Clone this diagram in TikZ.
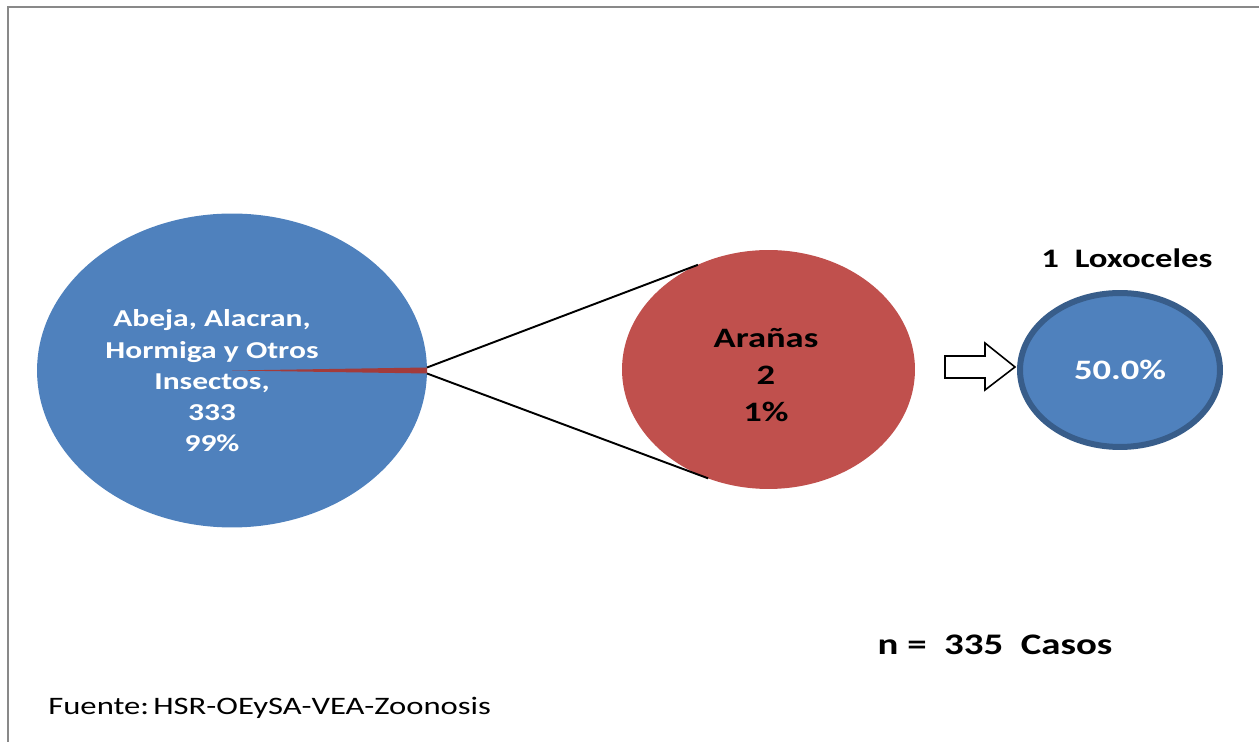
\documentclass[tikz,border=0pt]{standalone}
\usepackage{fontspec}
\setmainfont{Carlito}[FakeStretch=1.3]
\usepackage{xcolor}
\usepackage{tikz}
\usetikzlibrary{shapes.geometric}
\definecolor{PieBlue}{HTML}{4F81BD}
\definecolor{PieRed}{HTML}{C0504D}
\definecolor{SliceRed}{HTML}{A33B3B}
\definecolor{RimBlue}{HTML}{385D8A}
\definecolor{FrameGray}{HTML}{898989}
\tikzset{
  pie/.style={ellipse, inner sep=0pt, outer sep=0pt, draw=none},
  frameline/.style={draw=FrameGray, line width=1.4pt},
  zoomline/.style={draw=black, line width=1.1pt},
  blockarrow/.style={draw=black, fill=white, line width=0.9pt, line join=miter},
  whitetext/.style={text=white, align=center, font=\bfseries\fontsize{13.8}{17.8}\selectfont},
  darktext/.style={text=black, align=center, font=\bfseries\fontsize{16}{21}\selectfont},
  note/.style={text=black, font=\fontsize{14.3}{17}\selectfont},
}

\begin{document}
\begin{tikzpicture}[x=0.02cm, y=-0.02cm]
  \useasboundingbox (0,0) rectangle (1259,742);

  % Chart frame
  \draw[frameline] (8,742) -- (8,7) -- (1259,7);

  % Main pie
  \node[pie, fill=PieBlue, minimum width=7.8cm, minimum height=6.28cm] (insectos) at (232,370.5) {};
  \coordinate (slicetop) at (427,367.5);
  \coordinate (slicebot) at (427,373.5);
  \fill[SliceRed] (insectos.center) -- (slicetop) -- (slicebot) -- cycle;
  \node[whitetext] (insectostxt) at (212,381) {Abeja, Alacran,\\Hormiga y Otros\\Insectos,\\333\\99\%};

  % Second pie
  \node[pie, fill=PieRed, minimum width=5.86cm, minimum height=4.78cm] (aranas) at (768.5,369.5) {};
  \node[darktext] (aranastxt) at (766,375) {Arañas\\2\\1\%};

  % Zoom lines
  \draw[zoomline] (slicetop) -- (aranas.124.6);
  \draw[zoomline] (slicebot) -- (aranas.241.2);

  % Block arrow
  \draw[blockarrow] (945,356) -- (985,356) -- (985,343) -- (1015,367)
    -- (985,390) -- (985,378) -- (945,378) -- cycle;

  % Loxoceles
  \node[pie, fill=PieBlue, draw=RimBlue, line width=0.12cm, minimum width=4.0cm, minimum height=3.08cm] (loxo) at (1120,370) {};
  \node[whitetext, font=\bfseries\fontsize{16}{19}\selectfont] (loxotxt) at (loxo) {50.0\%};
  \node[darktext, font=\bfseries\fontsize{15.2}{18}\selectfont] (loxotitle) at (1127,258) {1\ \ Loxoceles};

  % Total and source
  \node[darktext, font=\bfseries\fontsize{17}{20}\selectfont] (total) at (995,645) {n =\ \ 335\ \ Casos};
  \node[note, anchor=west, inner sep=0pt] (fuente) at (48,708) {Fuente:\,HSR-OEySA-VEA-Zoonosis};
\end{tikzpicture}
\end{document}
